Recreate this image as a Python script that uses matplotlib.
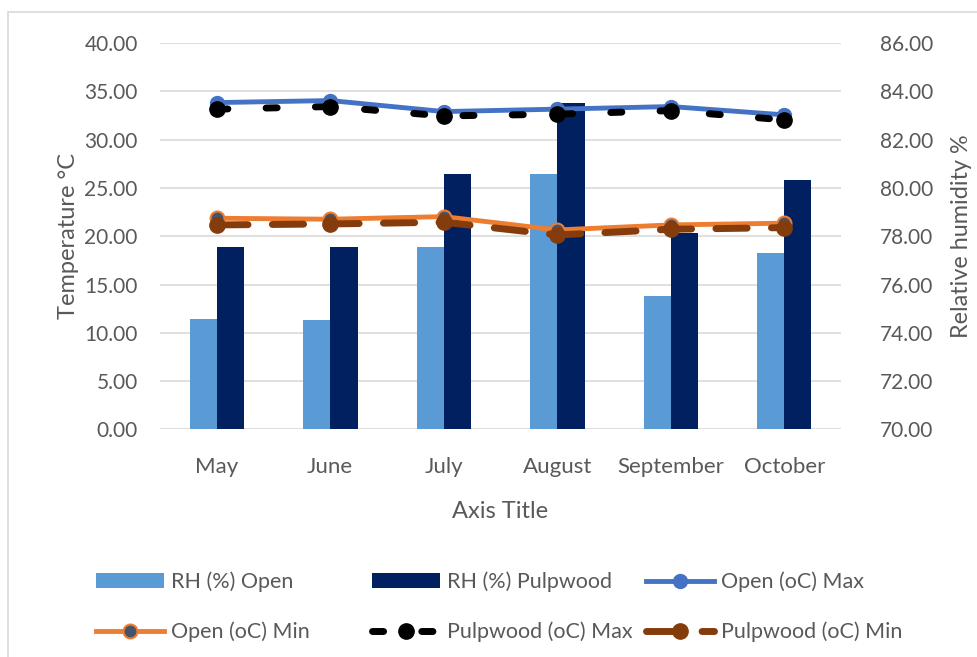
import matplotlib
matplotlib.use("Agg")
import matplotlib.pyplot as plt
import numpy as np
from matplotlib.patches import Rectangle

months = ["May", "June", "July", "August", "September", "October"]
rh_open = [74.57, 74.52, 77.55, 80.59, 75.51, 77.32]
rh_pulp = [77.55, 77.55, 80.59, 83.50, 78.15, 80.31]
open_max = [33.83, 34.04, 32.90, 33.15, 33.42, 32.56]
open_min = [21.86, 21.76, 22.03, 20.65, 21.17, 21.35]
pulp_max = [33.15, 33.42, 32.45, 32.63, 33.00, 32.04]
pulp_min = [21.17, 21.27, 21.45, 20.13, 20.72, 20.89]

plt.rcParams['font.family'] = ['Lato', 'DejaVu Sans']
grey = '#595959'

fig = plt.figure(figsize=(9.77, 6.57), dpi=100)
ax = fig.add_axes([0.1638, 0.3463, 0.697, 0.5883])
ax2 = ax.twinx()
ax.set_zorder(ax2.get_zorder() + 1)
ax.patch.set_visible(False)

x = np.arange(len(months))
w = 0.24
# bars go on the right (RH) axis
b_open = ax2.bar(x - w / 2, rh_open, w, color='#5B9BD5', label='RH (%) Open', zorder=2)
b_pulp = ax2.bar(x + w / 2, rh_pulp, w, color='#002060', label='RH (%) Pulpwood', zorder=2)
ax2.set_ylim(70, 86)
ax2.set_yticks(np.arange(70, 86.1, 2))
ax2.set_yticklabels([f"{v:.2f}" for v in np.arange(70, 86.1, 2)])
ax2.grid(axis='y', color='#D9D9D9', lw=1.2)
ax2.set_axisbelow(True)

# lines go on the left (temperature) axis
l_omax, = ax.plot(x, open_max, color='#4472C4', lw=3.5, marker='o', ms=10,
                  mfc='#4472C4', mec='#4472C4', label='Open (oC) Max')
l_omin, = ax.plot(x, open_min, color='#ED7D31', lw=3.5, marker='o', ms=10,
                  mfc='#44546A', mec='#ED7D31', mew=1.5, label='Open (oC) Min')
l_pmax, = ax.plot(x, pulp_max, color='black', lw=5, ls=(0, (1.6, 5.5)), marker='o', ms=11,
                  mfc='black', mec='black', dash_capstyle='round', label='Pulpwood (oC) Max')
l_pmin, = ax.plot(x, pulp_min, color='#843C0C', lw=5, ls=(0, (4.5, 3.5)), marker='o', ms=11,
                  mfc='#843C0C', mec='#843C0C', dash_capstyle='round', label='Pulpwood (oC) Min')

ax.set_ylim(0, 40)
ax.set_yticks(np.arange(0, 40.1, 5))
ax.set_yticklabels([f"{v:.2f}" for v in np.arange(0, 40.1, 5)])
ax.set_xlim(-0.5, len(months) - 0.5)
ax.set_xticks(x)
ax.set_xticklabels(months)

for a in (ax, ax2):
    for s in a.spines.values():
        s.set_visible(False)
    a.tick_params(length=0, labelsize=15, colors=grey)
ax.tick_params(axis='y', pad=16)
ax2.tick_params(axis='y', pad=28)
ax.tick_params(axis='x', pad=20, labelsize=16)

ax.set_ylabel('Temperature °C', fontsize=17, color=grey, labelpad=4)
ax2.set_ylabel('Relative humidity %', fontsize=16.8, color=grey, labelpad=13)
ax.set_xlabel('Axis Title', fontsize=17, color=grey, labelpad=17)

# one legend per column, so the columns sit where Excel puts them
cols = [([b_open, l_omin], 96), ([b_pulp, l_pmax], 372), ([l_omax, l_pmin], 646)]
for hs, xpix in cols:
    leg = fig.legend(hs, [h.get_label() for h in hs], loc='center left',
                     bbox_to_anchor=(xpix / 977, 1 - 607 / 657), frameon=False,
                     fontsize=15.5, labelcolor=grey, handlelength=3.15,
                     handletextpad=0.33, labelspacing=1.38, borderpad=0,
                     borderaxespad=0)

fig.patches.append(Rectangle((8 / 977, -0.05), 1.1, 1 - 12 / 657 + 0.05,
                             transform=fig.transFigure, fill=False,
                             edgecolor='#D9D9D9', lw=1.2))

fig.savefig('out.png', dpi=100)
